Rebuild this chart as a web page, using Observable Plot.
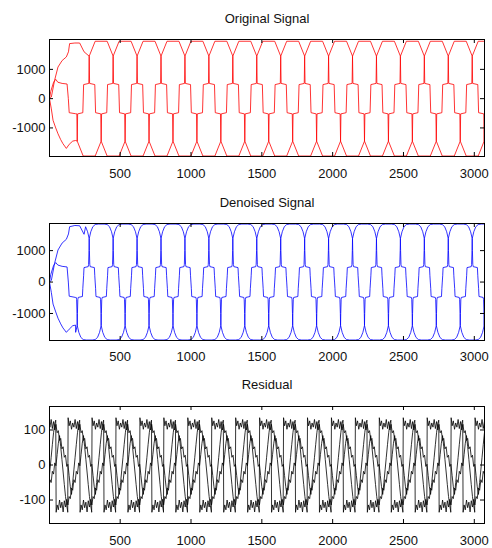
<!DOCTYPE html>
<html><head><meta charset="utf-8">
<script src="https://cdn.jsdelivr.net/npm/d3@7"></script>
<script src="https://cdn.jsdelivr.net/npm/@observablehq/plot@0.6"></script>
<style>
html,body{margin:0;padding:0;background:#fff}
#chart{width:492px;height:548px;overflow:hidden}
#chart svg{display:block}
</style></head><body><div id="chart"></div>
<script>
// ---------- data ----------
const xTicks = [500, 1000, 1500, 2000, 2500, 3000];
const xDomain = [1, 3072];
const period = 507;                 // samples per cycle of each phase

// cycle starts (sample) of each phase
const startsA = [-268, 239, 746, 1253, 1760, 2267, 2774];
const startsB = [-99, 408, 915, 1422, 1929, 2436, 2943];
const startsC = [70, 577, 1084, 1591, 2098, 2605, 3112];

// one cycle of the original staircase waveform (phase angle in degrees, value)
const origDeg = [-30, -28, -2, 2, 28, 30, 60, 120, 150, 152, 178, 182, 208, 210, 240, 300];
const origVal = [-1450, -520, -480, 480, 520, 1450, 1960, 1960, 1450, 520, 480, -480, -520, -1450, -1960, -1960];

// one cycle of the denoised waveform
const denDeg = [-30, -29, -27, -25, -4, -2, 0, 2, 4, 25, 27, 29, 30, 38, 48, 60, 75, 105, 120, 132, 142, 150, 151, 153, 155, 176, 178, 180, 182, 184, 205, 207, 209, 210, 218, 228, 240, 255, 285, 300, 312, 322];
const denVal = [-1380, -1000, -560, -490, -460, -200, 0, 200, 460, 490, 560, 1000, 1380, 1600, 1760, 1830, 1845, 1845, 1830, 1760, 1600, 1380, 1000, 560, 490, 460, 200, 0, -200, -460, -490, -560, -1000, -1380, -1600, -1760, -1830, -1845, -1845, -1830, -1760, -1600];

// start-up part of the three phases (sample, value)
const origStartA_t = [1, 14, 26, 45, 61, 80, 96, 120, 140, 165, 185];
const origStartA_v = [0, -350, -740, -1000, -1200, -1400, -1540, -1700, -1560, -1450, -1430];
const origStartB_t = [1, 10, 30, 45, 60, 90, 125, 134, 140, 185];
const origStartB_v = [0, 250, 560, 660, 560, 520, 500, 0, -480, -515];
const origStartC_t = [1, 14, 37, 61, 90, 120, 135, 143, 180, 214, 245];
const origStartC_v = [0, 55, 627, 1080, 1300, 1425, 1600, 1880, 1900, 1900, 1600];

const denStartA_t = [1, 14, 26, 45, 61, 80, 96, 120, 140, 165, 185];
const denStartA_v = [0, -330, -700, -950, -1150, -1330, -1460, -1600, -1500, -1390, -1370];
const denStartB_t = [1, 10, 30, 45, 60, 90, 125, 134, 140, 185];
const denStartB_v = [0, 240, 530, 620, 540, 500, 480, 0, -450, -490];
const denStartC_t = [1, 14, 37, 61, 90, 120, 135, 143, 180, 214, 245];
const denStartC_v = [0, 50, 600, 1020, 1240, 1360, 1530, 1760, 1800, 1790, 1520];

// residual: one cycle (degrees, value) and cycle starts per phase
const resDeg = [-1, 1, 6, 12, 18, 24, 30, 36, 42, 48, 54, 60, 66, 72, 78, 84, 90, 96, 102, 108, 114, 120, 126, 132, 138, 144, 150, 156, 162, 168, 174, 179,
                181, 186, 192, 198, 204, 210, 216, 222, 228, 234, 240, 246, 252, 258, 264, 270, 276, 282, 288, 294, 300, 306, 312, 318, 324, 330, 336, 342, 348, 354, 359];
const resVal = [-135, 135, 112, 126, 102, 120, 108, 130, 104, 124, 100, 116, 92, 98, 70, 76, 46, 52, 22, 28, -4, 2, -30, -62, -84, -50, -14, 22, 58, 92, 118, 128,
                -135, -114, -128, -100, -122, -106, -134, -102, -120, -98, -114, -90, -96, -66, -72, -42, -50, -18, -26, 6, -2, 30, 62, 84, 52, 16, -20, -56, -90, -116, -132];
const resStartsA = [-376, 131, 638, 1145, 1652, 2159, 2666, 3173];
const resStartsB = [-207, 300, 807, 1314, 1821, 2328, 2835];
const resStartsC = [-38, 469, 976, 1483, 1990, 2497, 3004];

// ---------- build line tables ----------
function buildPhase(starts, deg, val, st, sv) {
  const pts = st ? st.map((t, i) => ({t, v: sv[i]})) : [];
  const tEnd = st ? st[st.length - 1] : -Infinity;
  for (const s of starts) deg.forEach((d, i) => {
    const t = s + d * period / 360;
    if (t > tEnd) pts.push({t, v: val[i]});
  });
  return pts;
}
const origLines = [
  buildPhase(startsA, origDeg, origVal, origStartA_t, origStartA_v),
  buildPhase(startsB, origDeg, origVal, origStartB_t, origStartB_v),
  buildPhase(startsC, origDeg, origVal, origStartC_t, origStartC_v)
];
const denLines = [
  buildPhase(startsA, denDeg, denVal, denStartA_t, denStartA_v),
  buildPhase(startsB, denDeg, denVal, denStartB_t, denStartB_v),
  buildPhase(startsC, denDeg, denVal, denStartC_t, denStartC_v)
];
const resLines = [
  buildPhase(resStartsA, resDeg, resVal),
  buildPhase(resStartsB, resDeg, resVal),
  buildPhase(resStartsC, resDeg, resVal)
];

// ---------- drawing ----------
const W = 492, ML = 49, MR = 8;
function panel({title, lines, color, yDomain, yTicks, height, mt, mb, titleDy, pad}) {
  const ph = height - mt - mb, pw = W - ML - MR;
  return Plot.plot({
    width: W, height, marginLeft: ML, marginRight: MR, marginTop: mt, marginBottom: mb,
    style: {fontFamily: "'Liberation Sans', Arial, sans-serif", fontSize: "13px", color: "#111", background: "#fff"},
    x: {domain: xDomain},
    y: {domain: yDomain},
    marks: [
      ...lines.map(L => Plot.line(L, {x: "t", y: "v", stroke: color, strokeWidth: 0.8, clip: true})),
      Plot.frame({stroke: "#000", strokeWidth: 1}),
      Plot.tickX(xTicks, {x: d => d, insetTop: ph - 4, stroke: "#000"}),
      Plot.tickX(xTicks, {x: d => d, insetBottom: ph - 4, stroke: "#000"}),
      Plot.tickY(yTicks, {y: d => d, insetRight: pw - 4, stroke: "#000"}),
      Plot.tickY(yTicks, {y: d => d, insetLeft: pw - 4, stroke: "#000"}),
      Plot.axisX(xTicks, {tickSize: 0, tickPadding: pad, label: null, tickFormat: d => String(d)}),
      Plot.axisY(yTicks, {tickSize: 0, tickPadding: 4, label: null, tickFormat: d => String(d)}),
      Plot.text([title], {frameAnchor: "top", dy: titleDy, lineAnchor: "bottom", fill: "#111"})
    ]
  });
}

document.getElementById("chart").append(
  panel({title: "Original Signal", lines: origLines, color: "#ff0000", yDomain: [-1976, 2020], yTicks: [-1000, 0, 1000], height: 190, mt: 39, mb: 34, titleDy: -17, pad: 12}),
  panel({title: "Denoised Signal", lines: denLines, color: "#0000ff", yDomain: [-1860, 1863], yTicks: [-1000, 0, 1000], height: 180, mt: 33, mb: 30, titleDy: -16.5, pad: 11}),
  panel({title: "Residual", lines: resLines, color: "#000000", yDomain: [-167, 167], yTicks: [-100, 0, 100], height: 178, mt: 36, mb: 25, titleDy: -17.5, pad: 12})
);
</script></body></html>
